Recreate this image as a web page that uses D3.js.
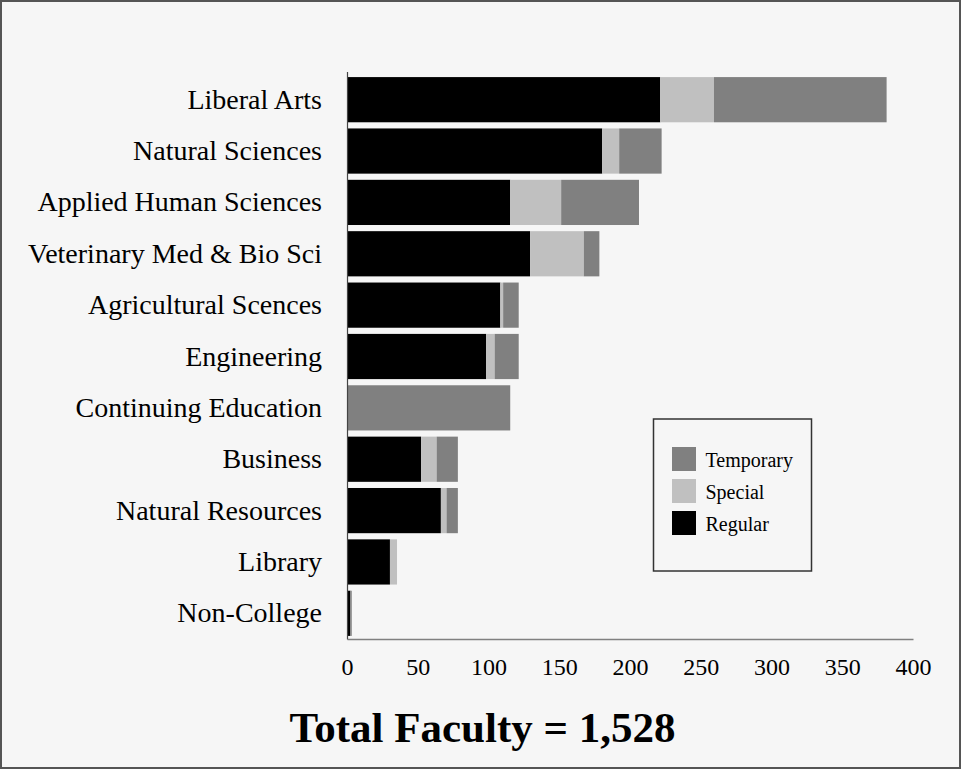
<!DOCTYPE html>
<html>
<head>
<meta charset="utf-8">
<script src="https://cdn.jsdelivr.net/npm/d3@7"></script>
<style>
  body { margin: 0; background: #f6f6f6; }
  svg { display: block; }
</style>
</head>
<body>
<div id="faculty_viz"></div>
<script>
// Faculty counts by college
const colleges = ["Liberal Arts", "Natural Sciences", "Applied Human Sciences", "Veterinary Med & Bio Sci",
    "Agricultural Scences", "Engineering", "Continuing Education", "Business", "Natural Resources",
    "Library", "Non-College"];
const regular = [221, 180, 115, 129, 108, 98, 0, 52, 66, 30, 2];
const special = [38, 12, 36, 38, 2, 6, 0, 11, 4, 5, 0];
const temporary = [122, 30, 55, 11, 11, 17, 115, 15, 8, 0, 1];
const xTicks = [0, 50, 100, 150, 200, 250, 300, 350, 400];
const seriesNames = ["Regular", "Special", "Temporary"];
const titleText = "Total Faculty = 1,528";

var w = 961;
var h = 769;
const font = "'Liberation Serif', 'Times New Roman', serif";

const colour = d3.scaleOrdinal()
    .domain(seriesNames)
    .range(["#000000", "#c0c0c0", "#808080"]);

// build rows for the stack
const rows = colleges.map((c, i) => ({
    college: c,
    Regular: regular[i],
    Special: special[i],
    Temporary: temporary[i]
}));
const stacked = d3.stack().keys(seriesNames)(rows);

const x = d3.scaleLinear().domain([0, 400]).range([347.5, 913.5]);
const y = d3.scaleBand().domain(colleges).range([74, 639]).paddingInner(0.12).paddingOuter(0.06);

var svg = d3.select("#faculty_viz").append("svg").attr("width", w).attr("height", h);

// background + outer frame
svg.append("rect")
    .attr("x", 1).attr("y", 1)
    .attr("width", w - 2).attr("height", h - 2)
    .attr("fill", "#f6f6f6")
    .attr("stroke", "#555")
    .attr("stroke-width", 2);

// bars
svg.selectAll("g.series")
    .data(stacked)
    .enter()
    .append("g")
    .classed("series", true)
    .attr("fill", d => colour(d.key))
    .selectAll("rect")
    .data(d => d)
    .enter()
    .append("rect")
    .attr("x", d => x(d[0]))
    .attr("y", d => y(d.data.college))
    .attr("width", d => x(d[1]) - x(d[0]))
    .attr("height", y.bandwidth());

// axis lines
svg.append("line")
    .attr("x1", x(0)).attr("x2", x(0))
    .attr("y1", 72).attr("y2", 639.5)
    .attr("stroke", "#444").attr("stroke-width", 1.2);
svg.append("line")
    .attr("x1", x(0)).attr("x2", x(400))
    .attr("y1", 639.5).attr("y2", 639.5)
    .attr("stroke", "#808080").attr("stroke-width", 1.5);

// category labels
svg.selectAll("text.cat")
    .data(colleges)
    .enter()
    .append("text")
    .classed("cat", true)
    .attr("x", 322)
    .attr("y", d => y(d) + y.bandwidth() / 2 + 9)
    .attr("text-anchor", "end")
    .style("font-family", font)
    .style("font-size", "28px")
    .text(d => d);

// x tick labels
svg.selectAll("text.tick")
    .data(xTicks)
    .enter()
    .append("text")
    .classed("tick", true)
    .attr("x", d => x(d))
    .attr("y", 675)
    .attr("text-anchor", "middle")
    .style("font-family", font)
    .style("font-size", "24px")
    .text(d => d);

// legend
const legend = svg.append("g").attr("transform", "translate(653.5,419)");
legend.append("rect")
    .attr("width", 158).attr("height", 152)
    .attr("fill", "#f6f6f6")
    .attr("stroke", "#333").attr("stroke-width", 1.5);
const legendOrder = ["Temporary", "Special", "Regular"];
legendOrder.forEach((name, i) => {
    legend.append("rect")
        .attr("x", 18.5).attr("y", 28 + i * 32)
        .attr("width", 24).attr("height", 24)
        .attr("fill", colour(name));
    legend.append("text")
        .attr("x", 52).attr("y", 48 + i * 32)
        .style("font-family", font)
        .style("font-size", "20px")
        .text(name);
});

// title
svg.append("text")
    .attr("x", 482.5)
    .attr("y", 742)
    .attr("text-anchor", "middle")
    .style("font-family", font)
    .style("font-size", "43px")
    .style("font-weight", "bold")
    .text(titleText);
</script>
</body>
</html>
